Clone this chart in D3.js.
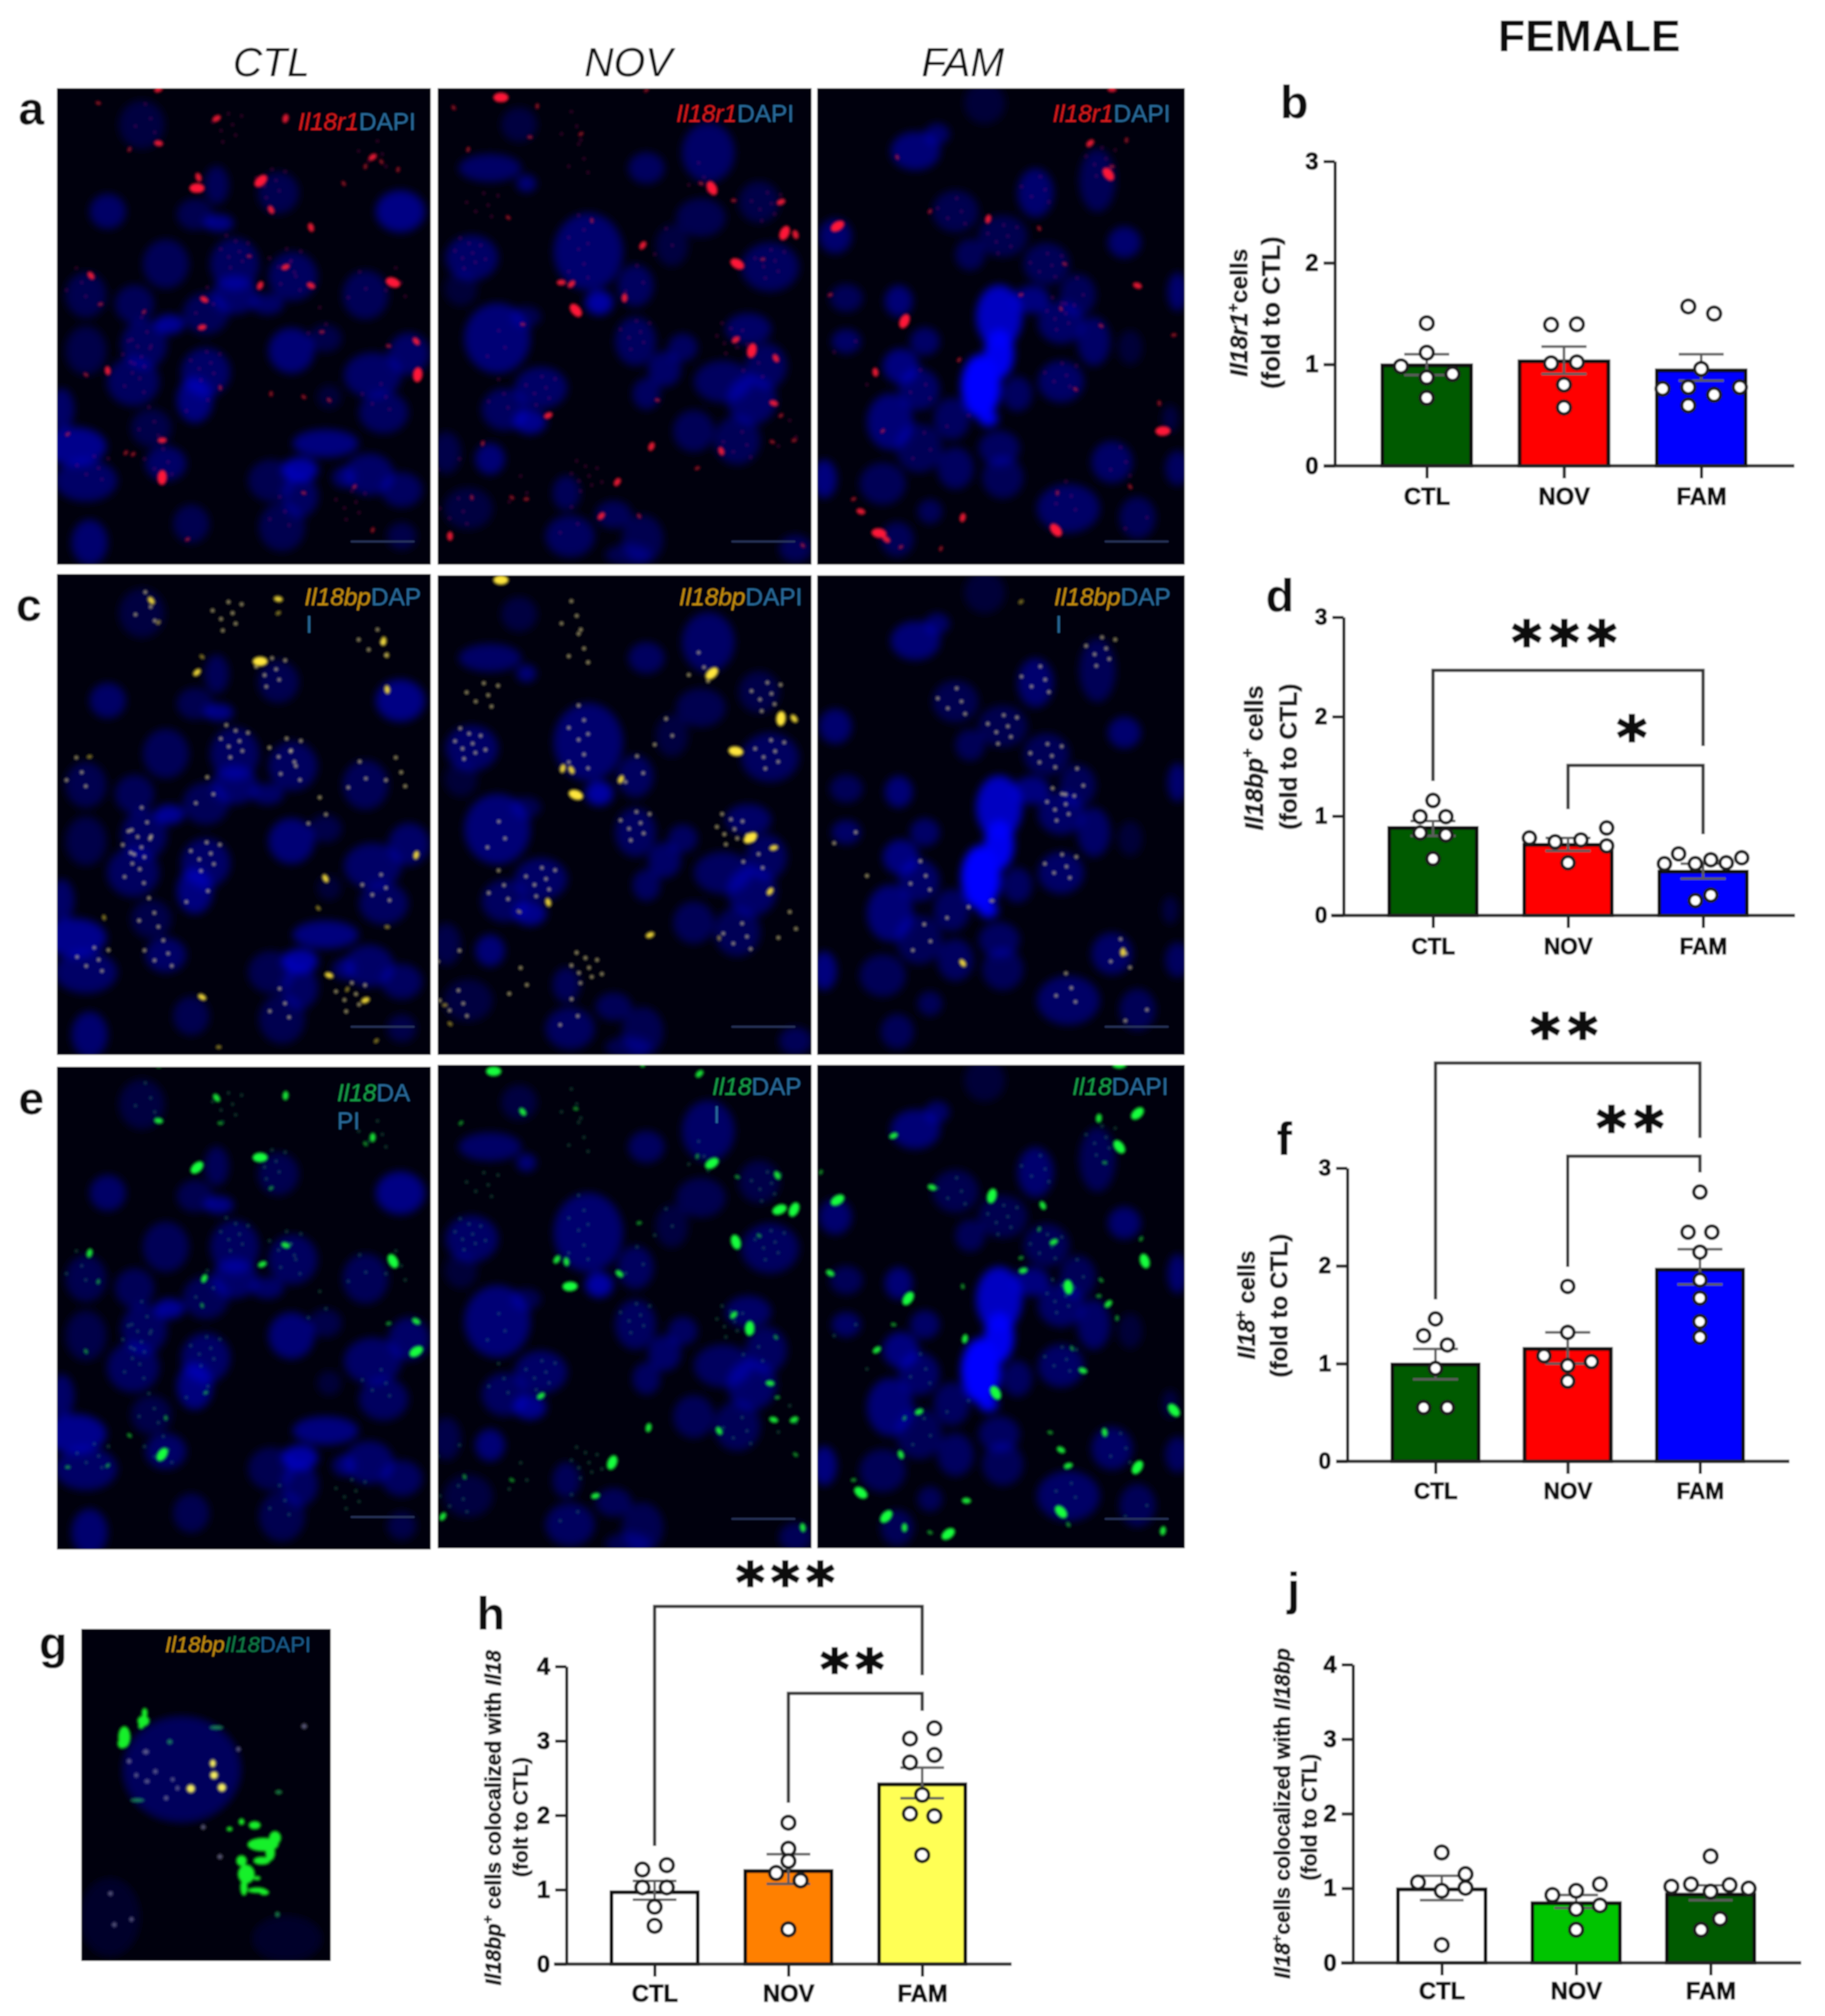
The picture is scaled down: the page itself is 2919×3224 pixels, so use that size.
<!DOCTYPE html>
<html><head><meta charset="utf-8">
<script src="https://cdn.jsdelivr.net/npm/d3@7/dist/d3.min.js"></script>
<style>
html,body{margin:0;padding:0;background:#fff}
svg{display:block}
text{font-family:"Liberation Sans",Arial,sans-serif}
</style></head><body>
<svg id="fig" width="2919" height="3224"></svg>
<script>
/* ---------- chart values ---------- */
const groups = ['CTL','NOV','FAM'];

const bMeans = [0.99,1.03,0.94], bUpper = [1.10,1.175,1.10], bLower = [0.895,0.905,0.84];
const bDots  = [[1.405,1.115,0.98,0.905,0.87,0.67],[1.39,1.395,1.01,1.02,0.80,0.575],[1.57,1.50,0.955,0.76,0.775,0.775,0.70,0.595]];
const bSlots = [[0,0,-2,2,0,0],[-1,1,-1,1,0,0],[-1,1,0,-3,-1,3,1,-1]];

const dMeans = [0.88,0.71,0.44], dUpper = [0.95,0.78,0.52], dLower = [0.80,0.65,0.37];
const dDots  = [[1.157,0.994,0.994,0.83,0.81,0.57],[0.78,0.74,0.76,0.88,0.70,0.53],[0.52,0.62,0.52,0.56,0.53,0.58,0.205,0.15]];
const dSlots = [[0,-1,1,-1,1,0],[-3,-1,1,3,3,0],[-3,-1.9,-0.6,0.6,1.8,3,0.6,-0.6]];

const fMeans = [0.99,1.15,1.96], fUpper = [1.15,1.32,2.17], fLower = [0.84,1.0,1.81];
const fDots  = [[1.457,1.286,1.19,0.95,0.55,0.55],[1.79,1.32,1.08,1.02,0.98,0.82],[2.755,2.345,2.345,2.14,1.855,1.67,1.43,1.27]];
const fSlots = [[0,-1,1,0,-1,1],[0,0,-2,2,0,0],[0,-1,1,0,0,0,0,0]];

const hMeans = [0.965,1.25,2.415], hUpper = [1.118,1.477,2.64], hLower = [0.866,1.078,2.23];
const hDots  = [[1.33,1.27,1.03,1.03,0.77,0.515],[1.90,1.55,1.385,1.225,1.125,0.467],[3.17,3.03,2.81,2.71,2.275,2.02,1.99,1.465]];
const hSlots = [[1,-1,-1,1,0,0],[0,0,0,-1,1,0],[1,-1,1,-1,0,-1,1,0]];

const jMeans = [0.985,0.80,0.916], jUpper = [1.167,0.91,1.04], jLower = [0.84,0.735,0.84];
const jDots  = [[1.48,1.19,1.08,1.005,0.966,0.24],[1.055,0.966,0.91,0.77,0.72,0.444],[1.43,1.055,1.043,1.024,0.997,0.955,0.59,0.444]];
const jSlots = [[0,2,-2,2,0,0],[2,0,-2,2,0,0],[0,-1.65,1.6,-3.3,3.2,0,0.8,-0.8]];

const bColors = ['#005a00','#ff0000','#0000ff'];
const hColors = ['#ffffff','#ff8000','#ffff55'];
const jColors = ['#ffffff','#00c400','#005a00'];

const yTicks3 = [0,1,2,3], yTicks4 = [0,1,2,3,4];

/* significance brackets: [from group, to group, top value, left end value, right end value, stars] */
const dBrackets = [[0,2,2.465,1.352,1.704,'***'],[1,2,1.509,1.069,0.818,'*']];
const fBrackets = [[0,2,4.075,1.657,3.308,'**'],[1,2,3.122,1.99,2.956,'**']];
const hBrackets = [[0,2,4.807,1.588,3.882,'***'],[1,2,3.639,2.168,3.403,'**']];

/* ---------- micrograph features, in a shared image coordinate system: x,y,rx,ry,level ---------- */
const nucleiCTL = [[122,130,28,70,.35],[75,410,22,50,.6],[225,325,15,55,.5],[310,350,25,60,.45],[195,420,22,45,.45],[228,448,18,25,.8],[478,410,30,60,.8],[155,580,28,70,.5],[250,580,30,75,.55],[250,680,28,55,.6],[330,620,30,70,.55],[430,680,28,70,.5],[45,680,25,65,.45],[112,710,24,55,.5],[210,740,28,60,.5],[295,710,20,30,.6],[160,775,18,28,.9],[125,840,28,70,.55],[45,860,25,70,.4],[328,860,28,65,.7],[375,820,20,40,.4],[490,870,25,60,.6],[210,930,30,70,.6],[110,960,32,70,.55],[440,940,35,65,.6],[195,1020,22,65,.75],[455,1060,30,60,.55],[380,1010,15,35,.3],[12,1050,15,60,.6],[135,1110,25,55,.4],[30,1170,38,55,.85],[155,1225,25,50,.6],[45,1280,38,60,.6],[375,1160,40,40,.75],[340,1245,22,35,1.0],[300,1280,28,60,.45],[435,1260,30,60,.6],[340,1330,22,60,.55],[480,1310,25,50,.55],[190,1420,22,55,.45],[315,1430,28,70,.45],[50,1480,22,65,.65],[480,1460,18,40,.4],[400,1270,14,30,.6]];
const nucleiNOV = [[600,270,38,40,.6],[650,320,12,25,.7],[640,130,22,50,.35],[900,220,32,85,.6],[815,270,22,45,.55],[575,560,32,65,.6],[735,540,42,110,.65],[800,650,22,60,.55],[750,705,17,35,1.0],[985,590,35,70,.55],[890,430,30,55,.45],[970,380,25,60,.4],[850,520,20,60,.35],[610,820,40,100,.7],[560,660,20,50,.3],[650,750,18,30,.45],[800,830,25,70,.55],[865,850,18,40,.55],[840,920,20,50,.6],[955,790,28,45,.6],[980,910,25,65,.55],[920,960,35,60,.55],[670,980,32,60,.6],[620,1050,28,60,.55],[815,1000,17,45,.55],[960,1020,30,70,.6],[655,1090,20,35,.85],[880,1120,25,60,.5],[940,1150,28,70,.5],[600,1210,18,45,.7],[540,1190,18,60,.4],[705,1320,17,50,.5],[570,1370,30,60,.35],[710,1460,30,60,.55],[770,1390,22,40,.5],[810,1470,25,70,.45],[790,1520,28,30,.45],[1020,1500,20,40,.5]];
const nucleiFAM = [[1185,215,30,55,.7],[1215,160,15,30,.6],[1280,60,25,60,.3],[1350,350,22,70,.65],[1435,310,22,90,.5],[1075,490,20,50,.65],[1240,410,28,60,.45],[1305,490,30,60,.45],[1472,510,20,45,.65],[1260,550,18,45,.5],[1365,580,28,60,.5],[1090,690,20,40,.5],[1162,700,17,45,.7],[1345,695,22,40,.75],[1408,680,22,60,.5],[1545,670,12,55,.65],[1300,750,28,90,1.2],[1385,770,28,60,.6],[1430,830,20,70,.6],[1090,830,18,35,.6],[1198,830,18,40,.6],[1300,870,18,70,1.5],[1165,910,22,50,.75],[1275,975,24,90,1.7],[1190,985,25,60,.6],[1385,960,28,60,.6],[1325,1000,18,50,.55],[1285,1080,12,22,1.5],[1150,1090,28,80,.7],[1235,1080,22,60,.55],[1190,1175,28,70,.5],[1300,1175,25,50,.55],[1140,1290,28,60,.5],[1240,1240,22,60,.55],[1305,1270,25,60,.5],[1060,1275,15,55,.75],[1455,1220,25,60,.6],[1545,1240,15,50,.55],[1395,1370,38,70,.6],[1490,1400,22,60,.5],[1205,1380,15,35,.5],[1160,1470,20,50,.5],[1535,1080,10,40,.35],[1480,850,15,50,.3]];

/* spots: x,y,size class */
const redCTL = [[198,335,3],[286,312,3],[502,938,3],[52,618,2],[145,190,2],[225,110,2],[320,110,2],[300,405,2],[468,640,3],[320,590,2],[285,650,2],[355,462,2],[208,695,2],[205,785,2],[125,735,1],[75,925,2],[45,938,1],[150,1150,2],[110,1195,1],[150,1270,3],[500,830,2],[462,845,1],[440,235,2],[430,265,1],[452,250,1],[62,60,1],[145,15,2],[105,210,1],[200,300,2],[355,650,2],[65,710,1],[100,1190,1],[230,980,1],[345,1010,1],[370,800,1],[415,1300,1],[300,1000,1],[380,1020,1],[270,555,1],[20,1130,1],[475,275,1],[400,320,1],[345,1320,1],[185,1470,1],[440,1440,1]];
const redNOV = [[615,42,3],[815,18,1],[665,70,1],[550,75,1],[655,170,1],[725,160,1],[570,210,1],[905,335,3],[890,320,1],[1000,380,2],[1005,480,3],[1020,485,2],[940,580,3],[975,565,1],[810,520,2],[740,440,1],[625,430,1],[698,640,2],[712,645,2],[785,690,2],[718,730,3],[645,775,1],[938,825,2],[960,860,3],[993,885,2],[990,1030,2],[680,1070,2],[822,1170,2],[918,1185,2],[988,1155,1],[1018,1150,1],[775,1285,2],[575,1335,1],[630,1335,1],[650,1340,1],[753,1395,2],[545,1460,2],[1030,1490,1],[935,375,1],[1000,1070,1],[590,1160,1],[805,1395,1],[830,1020,1],[885,1240,1]];
const redFAM = [[1455,15,2],[1425,190,2],[1475,180,1],[1450,290,3],[1455,265,1],[1078,458,3],[1285,435,2],[1355,465,1],[1490,650,2],[1068,680,1],[1170,765,3],[1385,725,1],[1440,780,1],[1540,810,1],[1245,890,1],[1130,930,2],[1405,985,1],[1525,1120,3],[1140,1120,1],[1380,1320,1],[1378,1440,3],[1135,1450,3],[1165,1495,1],[1250,1400,2],[1480,1300,1],[1110,1380,2],[1100,1340,1],[1220,1500,1],[1160,235,1],[1390,580,1],[1330,680,1],[1205,410,1],[1520,1030,1],[1145,1470,2]];

const yellowCTL = [[285,285,3],[198,320,2],[455,220,2],[135,90,2],[310,85,2],[310,130,1],[500,905,2],[375,980,2],[380,1290,2],[430,1370,2],[405,1335,1],[70,1105,1],[205,1360,2],[50,590,1],[145,160,1],[460,375,2],[205,270,1],[228,1520,1],[445,1500,1],[460,265,1],[365,1075,1],[460,1135,1]];
const yellowNOV = [[615,20,3],[905,320,3],[1000,465,3],[1018,465,2],[938,570,3],[958,848,3],[700,625,2],[712,630,2],[718,710,3],[820,1160,2],[780,660,2],[680,1055,2],[640,1085,1],[990,880,2],[985,1020,2],[915,1170,1],[545,1445,1],[538,1385,1]];
const yellowFAM = [[1290,1050,1],[1330,90,1],[1470,1215,2],[1250,1250,2]];

/* clusters of fine dots inside nuclei: x,y,count */
const fineCTL = [[240,130,7],[300,310,7],[445,225,5],[125,110,4],[250,540,8],[320,570,6],[115,880,8],[210,900,7],[110,950,4],[55,1240,6],[150,1220,5],[410,1350,7],[30,640,4],[120,800,4],[210,710,3],[450,1010,5],[130,1090,4],[310,1380,4],[200,1020,2],[470,640,4],[365,775,3],[325,620,4],[420,660,3]];
const fineNOV = [[570,545,9],[710,135,4],[720,240,4],[590,390,6],[720,470,4],[720,580,4],[985,570,7],[980,385,7],[800,800,7],[800,640,3],[930,820,9],[670,980,7],[610,1000,4],[730,1265,9],[945,1165,5],[1010,1140,3],[555,1380,5],[640,1320,3],[610,850,3],[710,1420,3],[885,300,4],[840,520,3],[545,1210,2],[960,900,4]];
const fineFAM = [[1440,240,7],[1355,340,5],[1240,410,5],[1305,490,7],[1365,585,6],[1385,740,8],[1385,940,6],[1190,970,4],[1245,1070,2],[1405,680,3],[1195,1180,3],[1465,1220,4],[1390,1330,4],[1490,1400,2],[1100,970,1],[1090,830,2]];

const greenCTL = [[285,298,3],[198,330,3],[320,103,2],[225,110,2],[145,182,2],[500,910,3],[50,600,2],[468,625,3],[320,575,2],[288,635,2],[208,680,2],[205,765,1],[500,815,2],[462,822,1],[150,1235,3],[155,1120,1],[105,1175,1],[20,1275,1],[75,1270,1],[440,235,2],[430,255,1],[230,190,1],[300,395,1],[62,690,1],[45,910,1],[145,10,1],[210,1040,1]];
const greenNOV = [[605,32,3],[888,40,2],[810,5,2],[645,160,2],[718,150,1],[905,322,3],[885,300,1],[995,360,2],[940,365,1],[998,468,3],[1018,468,3],[938,570,3],[970,550,1],[805,510,1],[692,625,2],[705,632,2],[778,670,2],[710,710,3],[935,800,2],[957,842,3],[993,870,1],[985,1015,2],[670,1055,2],[818,1155,2],[915,1165,2],[990,1130,2],[1018,1130,2],[768,1265,3],[565,1310,1],[630,1320,1],[745,1370,2],[535,1435,2],[1030,1470,2],[1020,1240,1],[995,1060,1],[560,195,1]];
const greenFAM = [[1465,8,3],[1490,165,3],[1437,180,2],[1465,270,3],[1445,320,1],[1078,438,3],[1290,425,3],[1360,455,2],[1208,398,2],[1155,235,2],[1055,350,1],[1500,630,3],[1068,668,2],[1333,660,2],[1175,748,3],[1395,712,3],[1440,690,1],[1437,740,1],[1450,765,2],[1462,810,1],[1540,1100,3],[1155,830,1],[1132,910,2],[1253,875,2],[1295,1045,3],[1415,975,2],[1190,1105,2],[1170,1125,1],[1165,1240,2],[1385,1225,2],[1395,1275,2],[1490,1280,3],[1445,1170,2],[1110,1360,3],[1100,1320,1],[1145,1435,3],[1170,1470,2],[1385,1420,3],[1255,1385,2],[1230,1490,3],[1525,1480,2],[1395,1460,1],[1370,1170,1],[1375,570,2],[1355,530,1],[1400,905,1],[1205,1485,1],[1330,620,1],[1495,560,1],[1250,710,1]];

/* panel g: x,y,rx,ry */
const gBlue   = [[760,650,250,200,.34],[460,1200,130,150,.14],[1200,1280,150,90,.14]];
const gGreen  = [[520,530,25,40],[510,555,18,18],[600,470,25,20],[605,440,12,18],[590,490,12,10],[1010,845,12,12],[1065,858,25,15],[960,872,12,8],[1100,930,65,25],[1150,905,25,25],[1130,960,20,30],[1095,990,35,15],[1010,990,22,20],[1030,1040,35,35],[1020,1090,15,30],[1075,1100,40,10],[1105,1108,20,10],[1075,1055,15,8]];
const gDimGreen = [[575,765,30,8],[905,495,30,8],[710,548,12,10],[1165,735,15,8],[1160,1190,10,10]];
const gYellow = [[890,628,13,15],[895,672,17,15],[928,718,18,16],[798,722,18,16]];
const gLilac  = [[610,585,14,10],[540,620,10,10],[650,658,10,9],[570,672,9,9],[615,695,12,8],[722,688,9,8],[742,720,9,9],[695,757,10,9],[997,575,9,9],[850,865,10,9],[920,975,11,10],[462,1112,10,9],[478,1228,10,9],[550,1208,9,9],[1272,490,12,10]];

/* ---------- drawing ---------- */
const svg = d3.select('#fig');
const defs = svg.append('defs');
[['soft',1.3],['blur1',1.9],['blur5',7],['blur3',3.4]].forEach(([id,s])=>{
  defs.append('filter').attr('id',id).attr('x','-20%').attr('y','-20%').attr('width','140%').attr('height','140%')
    .append('feGaussianBlur').attr('stdDeviation',s);
});
const root = svg.append('g').attr('filter','url(#soft)');
root.append('rect').attr('width',2919).attr('height',3224).attr('fill','#ffffff');

function rich(sel, parts){
  parts.forEach(p=>{
    const t = sel.append('tspan').text(p.t);
    if(p.i) t.attr('font-style','italic');
    if(p.c) t.attr('fill',p.c);
    if(p.sup){ t.attr('dy','-0.45em').attr('font-size','0.65em'); }
    if(p.after){ t.attr('dy',p.after); }
  });
  return sel;
}

/* micrographs */
const columns = [
 {n:nucleiCTL,xd:[5,520],xr:[91,689],red:redCTL,yellow:yellowCTL,green:greenCTL,fine:fineCTL},
 {n:nucleiNOV,xd:[528,1042],xr:[700,1298],red:redNOV,yellow:yellowNOV,green:greenNOV,fine:fineNOV},
 {n:nucleiFAM,xd:[1050,1555],xr:[1307,1895],red:redFAM,yellow:yellowFAM,green:greenFAM,fine:fineFAM}
];
const rows = [
 {key:'red',color:'#ff1438',fineColor:'#b01070',fineOp:.32,yd:[12,1552],yr:[[141,903],[141,903],[141,903]],scale:[866,866,866]},
 {key:'yellow',color:'#ffe63c',fineColor:'#fff0a0',fineOp:.8,yd:[5,1545],yr:[[918,1687],[920,1687],[920,1687]],scale:[1642,1642,1642]},
 {key:'green',color:'#14ff3c',fineColor:'#30a070',fineOp:.38,yd:[12,1535],yr:[[1706,2478],[1703,2476],[1703,2476]],scale:[2426,2429,2429]}
];
let clipId = 0;
rows.forEach(row=>{
  columns.forEach((col,ci)=>{
    const x = d3.scaleLinear().domain(col.xd).range(col.xr);
    const y = d3.scaleLinear().domain(row.yd).range(row.yr[ci]);
    const kx = (col.xr[1]-col.xr[0])/(col.xd[1]-col.xd[0]);
    const ky = (row.yr[ci][1]-row.yr[ci][0])/(row.yd[1]-row.yd[0]);
    const id = 'clip'+(clipId++);
    defs.append('clipPath').attr('id',id).append('rect')
      .attr('x',col.xr[0]).attr('y',row.yr[ci][0]).attr('width',col.xr[1]-col.xr[0]).attr('height',row.yr[ci][1]-row.yr[ci][0]);
    const g = root.append('g').attr('clip-path',`url(#${id})`);
    g.append('rect').attr('x',col.xr[0]).attr('y',row.yr[ci][0]).attr('width',col.xr[1]-col.xr[0]).attr('height',row.yr[ci][1]-row.yr[ci][0]).attr('fill','#00000c');
    g.append('g').attr('filter','url(#blur5)').selectAll('ellipse').data(col.n).join('ellipse')
      .attr('cx',d=>x(d[0])).attr('cy',d=>y(d[1])).attr('rx',d=>d[2]*kx*1.14).attr('ry',d=>d[3]*ky*1.14)
      .attr('fill','#0000ff').attr('opacity',d=>Math.min(1,d[4]*.62));
    /* fine dots: fixed golden-angle layout around each read cluster centre */
    const fine = [];
    col.fine.forEach(c=>{ for(let i=0;i<c[2];i++){ const r=Math.sqrt((i+.5)/c[2])*26, a=i*2.39996;
      fine.push([c[0]+r*Math.cos(a), c[1]+r*2.3*Math.sin(a)]); } });
    g.append('g').attr('filter','url(#blur1)').selectAll('circle').data(fine).join('circle')
      .attr('cx',d=>x(d[0])).attr('cy',d=>y(d[1])).attr('r',2.8).attr('fill',row.fineColor).attr('opacity',row.fineOp);
    const sizeR = [0,2.8,4.6,7.5], sizeOp=[0,.6,.9,1];
    g.append('g').attr('filter','url(#blur1)').selectAll('ellipse').data(col[row.key]).join('ellipse')
      .attr('transform',(d,i)=>`translate(${x(d[0])},${y(d[1])}) rotate(${(i*137.5)%180})`)
      .attr('rx',d=>sizeR[d[2]]*1.6).attr('ry',d=>sizeR[d[2]]).attr('fill',row.color).attr('opacity',d=>sizeOp[d[2]]);
    /* scale bar */
    g.append('line').attr('x1',col.xr[1]-128).attr('x2',col.xr[1]-26).attr('y1',row.scale[ci]).attr('y2',row.scale[ci])
      .attr('stroke','#2c3860').attr('stroke-width',3);
  });
});

const blueTxt='#2a6c9c', redTxt='#d81a1a', goldTxt='#c8900f', greenTxt='#17a048';
const imgLabels = [
 {x:665,y:208,a:'end',p:[{t:'Il18r1',i:1,c:redTxt},{t:'DAPI',c:blueTxt}]},
 {x:1270,y:195,a:'end',p:[{t:'Il18r1',i:1,c:redTxt},{t:'DAPI',c:blueTxt}]},
 {x:1872,y:195,a:'end',p:[{t:'Il18r1',i:1,c:redTxt},{t:'DAPI',c:blueTxt}]},
 {x:487,y:968,a:'start',p:[{t:'Il18bp',i:1,c:goldTxt},{t:'DAP',c:blueTxt}]},
 {x:489,y:1012,a:'start',p:[{t:'I',c:blueTxt}]},
 {x:1086,y:968,a:'start',p:[{t:'Il18bp',i:1,c:goldTxt},{t:'DAPI',c:blueTxt}]},
 {x:1686,y:968,a:'start',p:[{t:'Il18bp',i:1,c:goldTxt},{t:'DAP',c:blueTxt}]},
 {x:1688,y:1012,a:'start',p:[{t:'I',c:blueTxt}]},
 {x:539,y:1761,a:'start',p:[{t:'Il18',i:1,c:greenTxt},{t:'DA',c:blueTxt}]},
 {x:539,y:1806,a:'start',p:[{t:'PI',c:blueTxt}]},
 {x:1139,y:1751,a:'start',p:[{t:'Il18',i:1,c:greenTxt},{t:'DAP',c:blueTxt}]},
 {x:1141,y:1796,a:'start',p:[{t:'I',c:blueTxt}]},
 {x:1715,y:1751,a:'start',p:[{t:'Il18',i:1,c:greenTxt},{t:'DAPI',c:blueTxt}]}
];
imgLabels.forEach(l=>{
  rich(root.append('text').attr('x',l.x).attr('y',l.y).attr('text-anchor',l.a).attr('font-size',39),l.p);
});

/* panel g */
(function(){
  const x = d3.scaleLinear().domain([340,1383]).range([130,529]);
  const y = d3.scaleLinear().domain([128,1363]).range([2605,3136]);
  const kx = (529-130)/(1383-340), ky=(3136-2605)/(1363-128);
  defs.append('clipPath').attr('id','clipG').append('rect').attr('x',130).attr('y',2605).attr('width',399).attr('height',531);
  const g = root.append('g').attr('clip-path','url(#clipG)');
  g.append('rect').attr('x',130).attr('y',2605).attr('width',399).attr('height',531).attr('fill','#000008');
  g.append('g').attr('filter','url(#blur5)').selectAll('ellipse').data(gBlue).join('ellipse')
    .attr('cx',d=>x(d[0])).attr('cy',d=>y(d[1])).attr('rx',d=>d[2]*kx).attr('ry',d=>d[3]*ky).attr('fill','#0000ff').attr('opacity',d=>d[4]);
  const layer = (data,fill,op)=>g.append('g').attr('filter','url(#blur1)').selectAll('ellipse').data(data).join('ellipse')
    .attr('cx',d=>x(d[0])).attr('cy',d=>y(d[1])).attr('rx',d=>d[2]*kx).attr('ry',d=>d[3]*ky).attr('fill',fill).attr('opacity',op);
  layer(gDimGreen,'#20b060',.7);
  layer(gGreen,'#18f02c',1);
  layer(gLilac,'#77749a',.8);
  layer(gYellow,'#f6ee60',1);
})();
rich(root.append('text').attr('x',264).attr('y',2642).attr('font-size',35),
  [{t:'Il18bp',i:1,c:goldTxt},{t:'Il18',i:1,c:'#12804a'},{t:'DAPI',c:'#1d5f90'}]);

/* headers and panel letters */
[['CTL',434],['NOV',1005],['FAM',1540]].forEach(([t,x])=>{
  root.append('text').attr('x',x).attr('y',122).attr('text-anchor','middle').attr('font-size',65).attr('font-style','italic').attr('fill','#111').text(t);
});
root.append('text').attr('x',2542).attr('y',82).attr('text-anchor','middle').attr('font-size',71).attr('font-weight','bold').attr('fill','#111').text('FEMALE');
[['a',50,199],['b',2070,189],['c',46,993],['d',2047,978],['e',50,1782],['f',2054,1847],['g',85,2653],['h',785,2606],['j',2069,2567]].forEach(([t,x,y])=>{
  root.append('text').attr('x',x).attr('y',y).attr('text-anchor','middle').attr('font-size',74).attr('font-weight','bold').attr('fill','#111').text(t);
});

/* bar charts */
function barChart(o){
  const x = d3.scalePoint().domain(groups).range(o.centers);
  const y = d3.scaleLinear().domain([0,o.yMax]).range([o.y0,o.yTop]);
  const g = root.append('g');
  const data = groups.map((k,i)=>({k,i,m:o.means[i],u:o.upper[i],l:o.lower[i],c:o.colors[i]}));

  g.selectAll('.bar').data(data).join('rect').attr('class','bar')
    .attr('x',d=>x(d.k)-o.barW/2).attr('width',o.barW)
    .attr('y',d=>y(d.m)).attr('height',d=>y(0)-y(d.m))
    .attr('fill',d=>d.c).attr('stroke','#0a0a0a').attr('stroke-width',6);

  const e = g.selectAll('.err').data(data).join('g').attr('class','err').attr('stroke','#5c5c5c').attr('stroke-width',4).attr('fill','none');
  e.append('line').attr('x1',d=>x(d.k)).attr('x2',d=>x(d.k)).attr('y1',d=>y(d.u)).attr('y2',d=>y(d.l));
  e.append('line').attr('x1',d=>x(d.k)-o.cap).attr('x2',d=>x(d.k)+o.cap).attr('y1',d=>y(d.u)).attr('y2',d=>y(d.u));
  e.append('line').attr('x1',d=>x(d.k)-o.cap).attr('x2',d=>x(d.k)+o.cap).attr('y1',d=>y(d.l)).attr('y2',d=>y(d.l));

  const pts = [];
  groups.forEach((k,i)=>o.dots[i].forEach((v,j)=>pts.push({k,v,s:o.slots[i][j]})));
  g.selectAll('.dot').data(pts).join('circle').attr('class','dot')
    .attr('cx',d=>x(d.k)+d.s*o.slotPx).attr('cy',d=>y(d.v)).attr('r',o.r)
    .attr('fill','#ffffff').attr('stroke','#1a1a1a').attr('stroke-width',5);

  const left = g.append('g').attr('transform',`translate(${o.axisX},0)`)
    .call(d3.axisLeft(y).tickValues(o.ticks).tickFormat(d3.format('d')).tickSize(18).tickPadding(8).tickSizeOuter(0));
  const bottom = g.append('g').attr('transform',`translate(0,${o.y0})`)
    .call(d3.axisBottom(x).tickSize(20).tickSizeOuter(0));
  bottom.select('.domain').remove();
  g.append('line').attr('x1',o.baseX[0]).attr('x2',o.baseX[1]).attr('y1',o.y0).attr('y2',o.y0).attr('stroke','#222').attr('stroke-width',5);
  [left,bottom].forEach(a=>{
    a.selectAll('path,line').attr('stroke','#222').attr('stroke-width',5);
    a.selectAll('text').attr('font-family','"Liberation Sans",Arial,sans-serif').attr('font-weight','bold').attr('fill','#111').attr('stroke','#111').attr('stroke-width',1.2).attr('font-size',o.tickFont);
  });
  bottom.selectAll('text').attr('y',o.labelDy).attr('dy',0);

  (o.brackets||[]).forEach(b=>{
    const xa=x(groups[b[0]]), xb=x(groups[b[1]]), yt=y(b[2]);
    const p=d3.path(); p.moveTo(xa,y(b[3])); p.lineTo(xa,yt); p.lineTo(xb,yt); p.lineTo(xb,y(b[4]));
    g.append('path').attr('d',p.toString()).attr('fill','none').attr('stroke','#333').attr('stroke-width',5);
    g.append('text').attr('x',(xa+xb)/2).attr('y',yt-o.starGap).attr('text-anchor','middle')
      .style('font-family','"DejaVu Sans",sans-serif').attr('font-weight','bold').attr('font-size',o.starFont).attr('letter-spacing',o.starSpace)
      .attr('fill','#111').attr('stroke','#111').attr('stroke-width',2.5).text(b[5]);
  });

  o.labels.forEach(l=>{
    const t = g.append('text').attr('transform',`translate(${l.x},${l.yc}) rotate(-90)`).attr('text-anchor','middle')
      .attr('dominant-baseline','middle').attr('font-weight','bold').attr('fill','#1a1a1a').attr('stroke','#1a1a1a').attr('stroke-width',.9).attr('font-size',36);
    rich(t,l.p);
    const len = t.node().getComputedTextLength();
    t.attr('font-size',36*l.len/len);
  });
}

barChart({centers:[2282,2721],yMax:3,y0:745,yTop:258,axisX:2135,baseX:[2117,2870],barW:142,cap:36,r:10.5,slotPx:20.6,ticks:yTicks3,tickFont:38,labelDy:62,
  means:bMeans,upper:bUpper,lower:bLower,dots:bDots,slots:bSlots,colors:bColors,
  labels:[{x:1985,yc:500,len:205,p:[{t:'Il18r1',i:1},{t:'+',sup:1},{t:'cells',after:'0.3em'}]},{x:2036,yc:500,len:244,p:[{t:'(fold to CTL)'}]}]});
barChart({centers:[2292,2724],yMax:3,y0:1464,yTop:987,axisX:2149,baseX:[2129,2871],barW:140,cap:36,r:10,slotPx:20.6,ticks:yTicks3,tickFont:36,labelDy:62,
  means:dMeans,upper:dUpper,lower:dLower,dots:dDots,slots:dSlots,colors:bColors,brackets:dBrackets,starFont:92,starSpace:12,starGap:12,
  labels:[{x:2009,yc:1212,len:232,p:[{t:'Il18bp',i:1},{t:'+',sup:1},{t:' cells',after:'0.3em'}]},{x:2064,yc:1210,len:234,p:[{t:'(fold to CTL)'}]}]});
barChart({centers:[2296,2719],yMax:3,y0:2337,yTop:1868,axisX:2155,baseX:[2137,2862],barW:138,cap:36,r:10,slotPx:19,ticks:yTicks3,tickFont:36,labelDy:60,
  means:fMeans,upper:fUpper,lower:fLower,dots:fDots,slots:fSlots,colors:bColors,brackets:fBrackets,starFont:92,starSpace:12,starGap:12,
  labels:[{x:1997,yc:2087,len:174,p:[{t:'Il18',i:1},{t:'+',sup:1},{t:' cells',after:'0.3em'}]},{x:2049,yc:2088,len:230,p:[{t:'(fold to CTL)'}]}]});
barChart({centers:[1047,1475],yMax:4,y0:3141,yTop:2665,axisX:906,baseX:[886,1618],barW:138,cap:35,r:10.5,slotPx:19.5,ticks:yTicks4,tickFont:38,labelDy:60,
  means:hMeans,upper:hUpper,lower:hLower,dots:hDots,slots:hSlots,colors:hColors,brackets:hBrackets,starFont:88,starSpace:10,starGap:8,
  labels:[{x:792,yc:2907,len:536,p:[{t:'Il18bp',i:1},{t:'+',sup:1},{t:' cells colocalized with ',after:'0.3em'},{t:'Il18',i:1}]},{x:835,yc:2906,len:192,p:[{t:'(folt to CTL)'}]}]});
barChart({centers:[2306,2736],yMax:4,y0:3139,yTop:2662,axisX:2164,baseX:[2145,2881],barW:140,cap:35,r:10.5,slotPx:19,ticks:yTicks4,tickFont:38,labelDy:58,
  means:jMeans,upper:jUpper,lower:jLower,dots:jDots,slots:jSlots,colors:jColors,
  labels:[{x:2054,yc:2900,len:529,p:[{t:'Il18',i:1},{t:'+',sup:1},{t:'cells colocalized with ',after:'0.3em'},{t:'Il18bp',i:1}]},{x:2097,yc:2906,len:203,p:[{t:'(fold to CTL)'}]}]});
</script>
</body></html>
